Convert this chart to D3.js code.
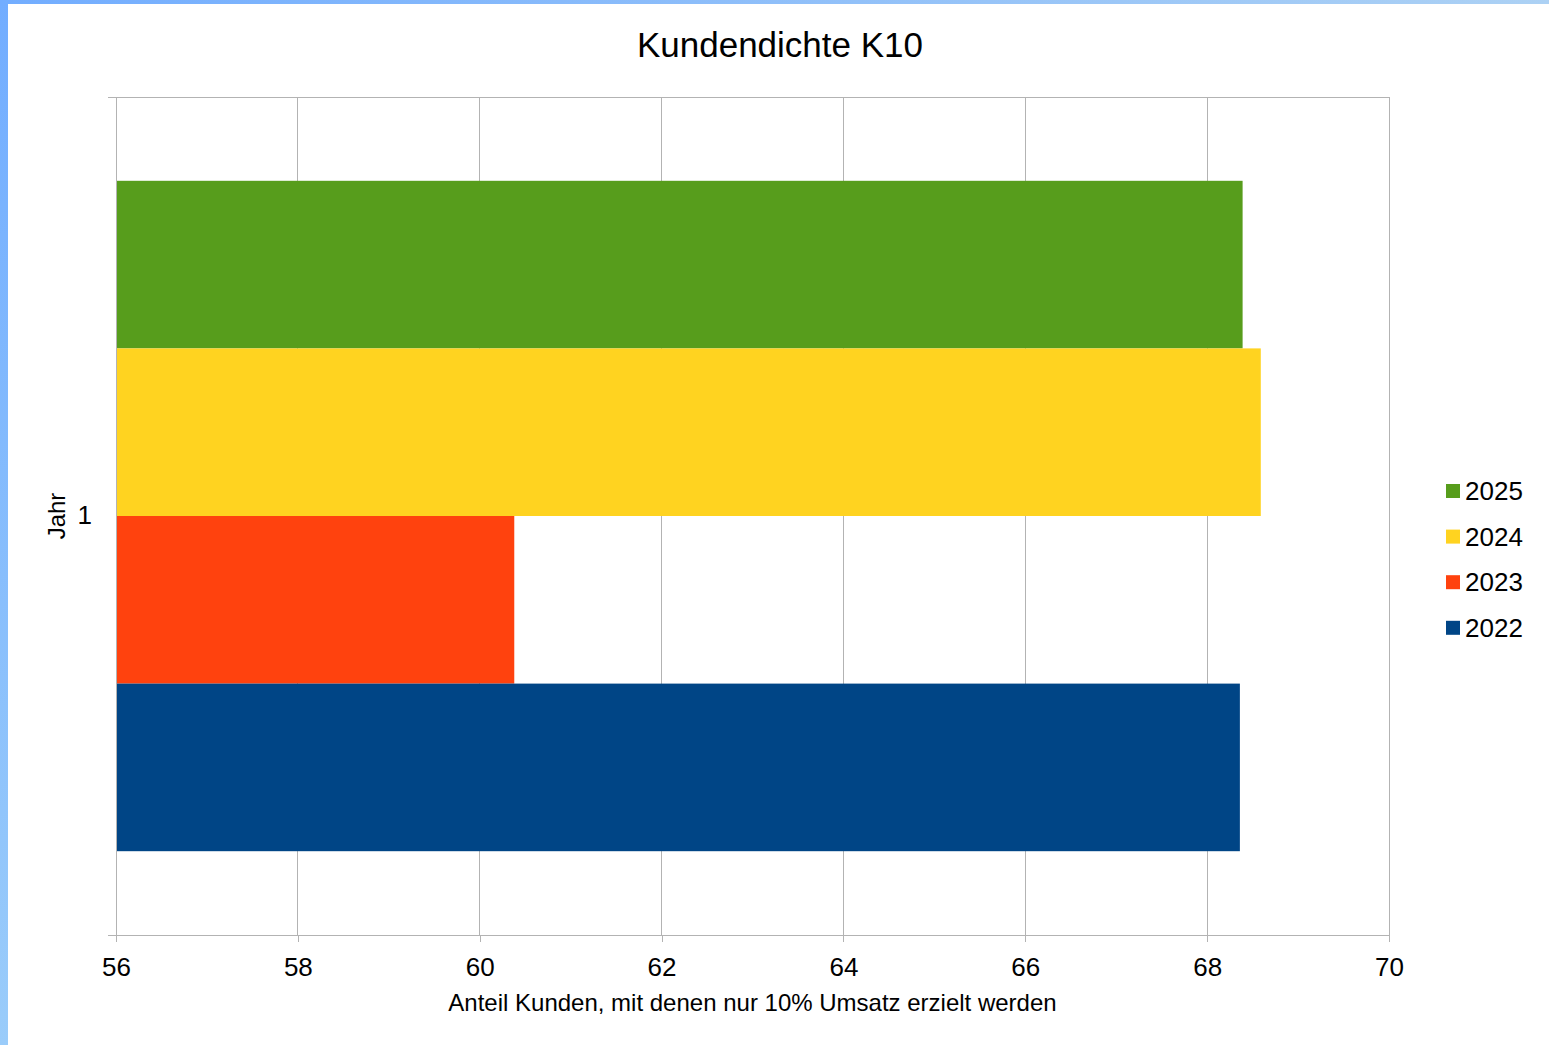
<!DOCTYPE html>
<html><head><meta charset="utf-8">
<script src="https://cdn.jsdelivr.net/npm/d3@7"></script>
<style>body{margin:0;background:#fff}svg{display:block;font-family:"Liberation Sans",Arial,sans-serif}</style>
</head><body>
<script>
const title = "Kundendichte K10";
const categories = ["1"];
const seriesNames = ["2025", "2024", "2023", "2022"];
const seriesValues = [68.39, 68.59, 60.38, 68.36];
const seriesColors = ["#579d1c", "#ffd320", "#ff420e", "#004586"];
const xTicks = [56, 58, 60, 62, 64, 66, 68, 70];
const xTitle = "Anteil Kunden, mit denen nur 10% Umsatz erzielt werden";
const yTitle = "Jahr";

const W = 1549, H = 1045;
const svg = d3.select("body").append("svg").attr("width", W).attr("height", H);
const defs = svg.append("defs");
const gl = defs.append("linearGradient").attr("id","gl").attr("x1",0).attr("y1",0).attr("x2",0).attr("y2",1);
gl.append("stop").attr("offset",0).attr("stop-color","#72adff");
gl.append("stop").attr("offset",1).attr("stop-color","#9accfa");
const gt = defs.append("linearGradient").attr("id","gt").attr("x1",0).attr("y1",0).attr("x2",1).attr("y2",0);
gt.append("stop").attr("offset",0).attr("stop-color","#72adff");
gt.append("stop").attr("offset",1).attr("stop-color","#acd1f4");
svg.append("rect").attr("x",0).attr("y",0).attr("width",W).attr("height",4).attr("fill","url(#gt)");
svg.append("rect").attr("x",0).attr("y",0).attr("width",8).attr("height",H).attr("fill","url(#gl)");

const L = 116, R = 1389, T = 97, B = 935;
const x = d3.scaleLinear().domain([56, 70]).range([L, R]);
const yCat = d3.scaleBand().domain(categories).range([T, B]);
const ySer = d3.scaleBand().domain(seriesNames).range([0, yCat.bandwidth()]).paddingOuter(0.5).paddingInner(0);

// grid
svg.append("g").selectAll("line").data(xTicks).join("line")
  .attr("x1", d => x(d)).attr("x2", d => x(d)).attr("y1", T).attr("y2", B)
  .attr("stroke", "#b3b3b3").attr("stroke-width", 1).attr("shape-rendering","crispEdges");
svg.append("line").attr("x1", L-8).attr("x2", R).attr("y1", T).attr("y2", T)
  .attr("stroke", "#b3b3b3").attr("shape-rendering","crispEdges");

// bars
svg.append("g").selectAll("rect").data(seriesNames).join("rect")
  .attr("x", x(56))
  .attr("y", (d) => yCat("1") + ySer(d))
  .attr("width", (d,i) => x(seriesValues[i]) - x(56))
  .attr("height", ySer.bandwidth())
  .attr("fill", (d,i) => seriesColors[i]);

// x axis
const xAxis = d3.axisBottom(x).tickValues(xTicks).tickSize(7).tickPadding(16).tickFormat(d3.format("d"));
const gx = svg.append("g").attr("transform", `translate(0,${B})`).call(xAxis);
gx.select(".domain").remove();
gx.append("line").attr("x1", L-8).attr("x2", R).attr("y1", 0).attr("y2", 0).attr("stroke","#b3b3b3").attr("shape-rendering","crispEdges");
gx.selectAll(".tick line").attr("stroke","#b3b3b3").attr("shape-rendering","crispEdges");
gx.selectAll(".tick text").attr("font-size", 26).attr("fill","#000").attr("font-family","Liberation Sans, Arial, sans-serif");

// y axis
const yAxis = d3.axisLeft(yCat).tickSize(0).tickPadding(24);
const gy = svg.append("g").attr("transform", `translate(${L},0)`).call(yAxis);
gy.select(".domain").remove();
gy.selectAll(".tick text").attr("font-size", 26).attr("fill","#000").attr("font-family","Liberation Sans, Arial, sans-serif");
svg.append("line").attr("x1", L).attr("x2", L).attr("y1", T).attr("y2", B+7).attr("stroke","#b3b3b3").attr("shape-rendering","crispEdges");

// titles
svg.append("text").attr("x", 780).attr("y", 57).attr("text-anchor","middle").attr("font-size", 35).text(title);
svg.append("text").attr("x", (L+R)/2).attr("y", 1011).attr("text-anchor","middle").attr("font-size", 24).text(xTitle);
svg.append("text").attr("transform", `translate(65,${(T+B)/2}) rotate(-90)`).attr("text-anchor","middle").attr("font-size", 24).text(yTitle);

// legend
const lg = svg.append("g");
seriesNames.forEach((s, i) => {
  const cy = 491 + i * 45.6;
  lg.append("rect").attr("x", 1446).attr("y", cy - 7).attr("width", 14).attr("height", 14).attr("fill", seriesColors[i]);
  lg.append("text").attr("x", 1465).attr("y", cy + 9).attr("font-size", 26).text(s);
});
</script>
</body></html>
